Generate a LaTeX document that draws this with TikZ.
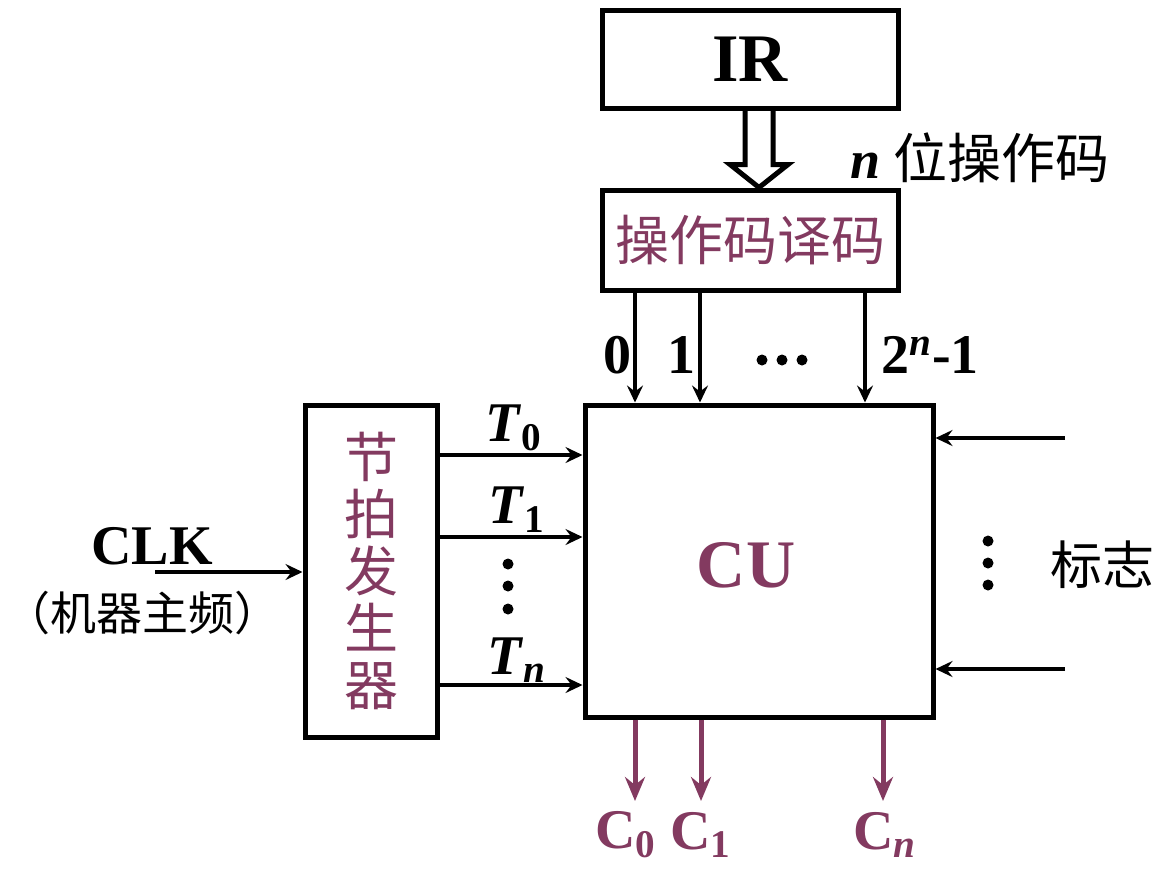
\documentclass[tikz,border=0pt]{standalone}
\usepackage{fontspec}
\setmainfont{Liberation Serif}
\newfontfamily\cjk{Noto Sans CJK SC}
\usetikzlibrary{arrows.meta,calc}
\definecolor{plum}{RGB}{131,58,96}
\tikzset{
  blk/.style={draw,line width=2.5pt,inner sep=0pt},
  arr/.style={line width=2pt,-{Stealth[length=8.5pt,width=8pt,inset=3pt]}},
  carr/.style={plum,line width=2.5pt,-{Stealth[length=12pt,width=10pt,inset=4pt]}},
  lab/.style={font=\fontsize{28}{30}\selectfont\bfseries},
  big/.style={font=\fontsize{34}{36}\selectfont\bfseries},
  zh/.style={font=\fontsize{27}{28.5}\selectfont\cjk},
  hollow/.style={line width=2.5pt,line join=miter},
}
\begin{document}
\begin{tikzpicture}[x=0.5pt,y=-0.5pt]
  \useasboundingbox (0,0) rectangle (1170,874);
  % boxes
  \node[blk,minimum width=148pt,minimum height=49pt,big] (ir) at (750,59) {IR};
  \node[blk,minimum width=148pt,minimum height=50pt,zh,text=plum] (dec) at (750,240) {操作码译码};
  \node[blk,minimum width=174pt,minimum height=156pt] (cu) at (759,561) {};
  \node[big,text=plum] (culab) at (746,565) {CU};
  \node[blk,minimum width=66pt,minimum height=166pt,zh,text=plum,align=center] (gen) at (371,571) {节\\拍\\发\\生\\器};
% IR -> decoder (hollow arrow)
\coordinate (tip) at ($(dec.north)+(9,0)$);
\draw[hollow] ($(ir.south)+(-5,0)$) -- ($(tip)+(-14,-23)$) -- ($(tip)+(-29,-23)$) -- (tip)
  -- ($(tip)+(29,-23)$) -- ($(tip)+(14,-23)$) -- ($(ir.south)+(23,0)$);
\node[font=\fontsize{27}{30}\selectfont] (nbit) at (980,158) {\textbf{\textit{n}} {\cjk 位操作码}};
  % decoder outputs
  \foreach \x in {635,700,865} \draw[arr] (dec.south -| \x,0) -- (cu.north -| \x,0);
  \node[lab] (o0) at (617,355) {0};
  \node[lab] (o1) at (681,355) {1};
  \node[lab] (omax) at (930,355) {2\textsuperscript{\textit{n}}-1};
  \foreach \x in {762,782,802} \fill (\x,360) circle (5.5);
  % timing signals
  \foreach \y/\t in {455/0,537/1,685/n} \draw[arr] (gen.east |- 0,\y) -- (cu.west |- 0,\y);
  \node[lab] (t0) at (514,428) {\textit{T}\textsubscript{0}};
  \node[lab] (t1) at (517,510) {\textit{T}\textsubscript{1}};
  \node[lab] (tn) at (517,660) {\textit{T}\textsubscript{\textit{n}}};
  \foreach \y in {564,586,609} \fill (508,\y) circle (5.5);
  % clock
  \coordinate (clk) at (155,572);
  \draw[arr] (clk) -- (gen.west |- clk);
  \node[lab] (clklab) at (152,546) {CLK};
  \node[font=\fontsize{23}{25}\selectfont\cjk] (freq) at (142,613) {（机器主频）};
  % flags
  \coordinate (f0) at (1065,438);
  \coordinate (fn) at (1065,669);
  \draw[arr] (f0) -- (cu.east |- f0);
  \draw[arr] (fn) -- (cu.east |- fn);
  \foreach \y in {541,563,585} \fill (988,\y) circle (5.5);
  \node[font=\fontsize{26}{28}\selectfont\cjk] (flag) at (1102,565) {标志};
  % control signals
  \foreach \x in {635,701,883} \draw[carr] (cu.south -| \x,0) -- (\x,801);
  \node[lab,text=plum] (c0) at (626,835) {C\textsubscript{0}};
  \node[lab,text=plum] (c1) at (701,835) {C\textsubscript{1}};
  \node[lab,text=plum] (cn) at (885,835) {C\textsubscript{\textit{n}}};
\end{tikzpicture}
\end{document}
